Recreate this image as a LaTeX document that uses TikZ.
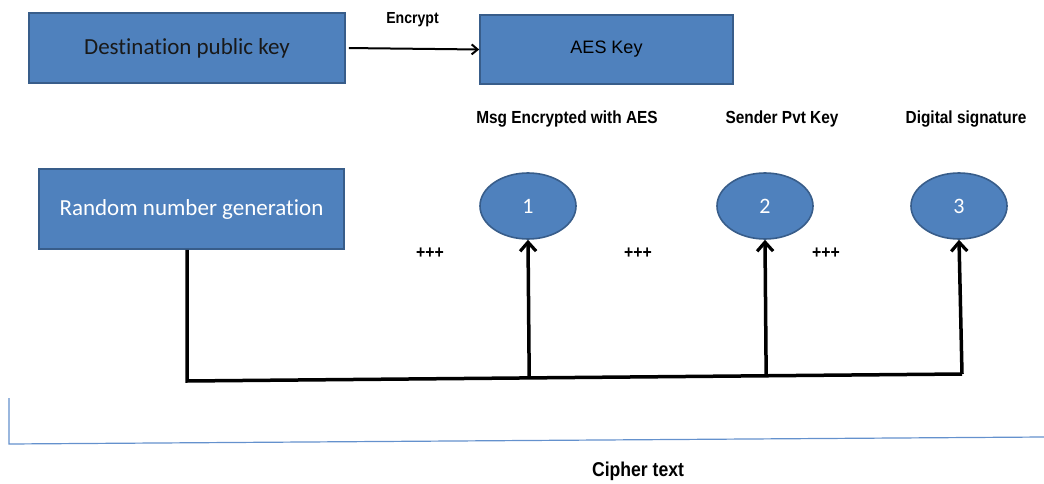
\documentclass[tikz,border=0pt]{standalone}
\usepackage{fontspec}
\setmainfont[Ligatures=NoCommon]{Carlito}
\newfontfamily\arialfont{Liberation Sans}
\newfontfamily\narrowfont[FakeStretch=0.88]{Liberation Sans}
\usepackage{tikz}
\usetikzlibrary{shapes.geometric, arrows.meta, positioning, calc}
\definecolor{boxblue}{RGB}{79,129,189}
\definecolor{boxedge}{RGB}{56,93,138}
\definecolor{baseblue}{RGB}{100,145,205}

\begin{document}
\begin{tikzpicture}[x=1pt, y=-1pt,
    keybox/.style={draw=boxedge, line width=1.6pt, fill=boxblue, rectangle, inner sep=0pt},
    stepnode/.style={draw=boxedge, line width=1.6pt, fill=boxblue, ellipse, inner sep=0pt,
        minimum width=96pt, minimum height=66pt, text=white, font=\fontsize{22}{26}\selectfont},
    steplabel/.style={font=\narrowfont\bfseries\fontsize{17.5}{21}\selectfont},
    plusmark/.style={font=\narrowfont\bfseries\fontsize{18}{20}\selectfont},
    feed/.style={line width=3.5pt, -{Straight Barb[length=9pt, width=16pt, line width=3.2pt]}}]
    \useasboundingbox (0,0) rectangle (1044,484);

    % Keys
    \node[keybox, minimum width=316pt, minimum height=70pt, font=\fontsize{23}{27}\selectfont, text=black!90]
        (dest) at (187,48) {Destination public key};
    \node[keybox, minimum width=253pt, minimum height=69pt, font=\arialfont\fontsize{18}{22}\selectfont]
        (aes) at (606.5,49.5) {AES Key};
    \draw[line width=2pt, -{Straight Barb[length=6pt, width=10pt, line width=2pt]}, shorten <=3pt]
        (dest.east) -- (aes.west)
        node[midway, above=18pt, font=\narrowfont\bfseries\fontsize{16}{19}\selectfont] (enc) {Encrypt};

    % Random number generator
    \node[keybox, minimum width=305pt, minimum height=80pt, text=white, font=\fontsize{23}{27}\selectfont]
        (rng) at (191.5,209) {Random number generation};

    % Steps
    \node[stepnode] (e1) at (528,206) {1};
    \node[stepnode] (e2) at (765,206) {2};
    \node[stepnode] (e3) at (959,206) {3};
    \node[steplabel] (l1) at (567,119) {Msg Encrypted with AES};
    \node[steplabel] (l2) at (782,119) {Sender Pvt Key};
    \node[steplabel] (l3) at (966,119) {Digital signature};

    \node[plusmark] (p1) at (430,253) {+++};
    \node[plusmark] (p2) at (638,253) {+++};
    \node[plusmark] (p3) at (826,253) {+++};

    % Feed lines
    \coordinate (busL) at (187,381);
    \coordinate (busR) at (962,374);
    \draw[line width=3.5pt, line join=miter] (rng.south -| busL) -- (busL) -- (busR);
    \draw[feed] ($(busL)!(e1.south)!(busR)$) -- (e1.south);
    \draw[feed] ($(busL)!(e2.south)!(busR)$) -- (e2.south);
    \draw[feed] (busR) -- (e3.south);

    % Cipher text
    \draw[baseblue, line width=1.2pt] (9,398) -- (9,444) -- (1044,437);
    \node[font=\narrowfont\bfseries\fontsize{20}{24}\selectfont] (cipher) at (638,471) {Cipher text};
\end{tikzpicture}
\end{document}
